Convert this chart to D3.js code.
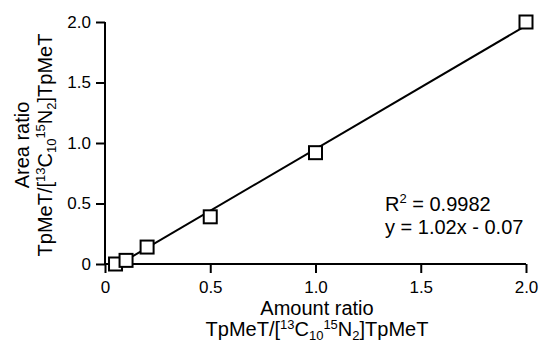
<!DOCTYPE html>
<html>
<head>
<meta charset="utf-8">
<script src="https://cdn.jsdelivr.net/npm/d3@7"></script>
<style>
body{margin:0;background:#fff;}
svg text{font-family:"Liberation Sans",Arial,sans-serif;fill:#000;}
</style>
</head>
<body>
<svg width="541" height="342"></svg>
<script>
// amount ratio vs area ratio
var amountRatio = [0.05, 0.1, 0.2, 0.5, 1.0, 2.0];
var areaRatio = [0.0, 0.03, 0.14, 0.39, 0.92, 2.0];
var xTicks = [0, 0.5, 1.0, 1.5, 2.0];
var yTicks = [0, 0.5, 1.0, 1.5, 2.0];
var fit = {slope:1.02, intercept:-0.07, r2:"0.9982", from:0.07, to:2.0};

var svg = d3.select("svg");
var x = d3.scaleLinear().domain([0,2]).range([105,526]);
var y = d3.scaleLinear().domain([0,2]).range([264,22]);
var fmt = function(d){ return d===0 ? "0" : d3.format(".1f")(d); };

var xAxis = svg.append("g")
	.attr("transform","translate(0,"+y(0)+")")
	.call(d3.axisBottom(x).tickValues(xTicks).tickFormat(fmt).tickSize(9).tickSizeOuter(0).tickPadding(8));
var yAxis = svg.append("g")
	.attr("transform","translate("+x(0)+",0)")
	.call(d3.axisLeft(y).tickValues(yTicks).tickFormat(fmt).tickSize(9).tickSizeOuter(0).tickPadding(5));
[xAxis,yAxis].forEach(function(a){
	a.selectAll("path,line").attr("stroke","#000").attr("stroke-width",2);
	a.selectAll("text").attr("font-size",17).attr("font-family","Liberation Sans, Arial, sans-serif");
});
xAxis.select("path").attr("d","M"+(x(0)-1)+",0H"+x(2));
yAxis.select("path").attr("d","M0,"+(y(0)+1)+"V"+y(2));

// regression line
svg.append("line")
	.attr("x1",x(fit.from)).attr("y1",y(fit.slope*fit.from+fit.intercept))
	.attr("x2",x(fit.to)).attr("y2",y(fit.slope*fit.to+fit.intercept))
	.attr("stroke","#000").attr("stroke-width",2);

// squares
var s = 13;
svg.selectAll("rect.pt")
	.data(amountRatio)
	.enter()
	.append("rect")
	.attr("class","pt")
	.attr("x",function(d){ return x(d)-s/2; })
	.attr("y",function(d,i){ return y(areaRatio[i])-s/2; })
	.attr("width",s).attr("height",s)
	.attr("fill","#fff").attr("stroke","#000").attr("stroke-width",2);

// annotation
var ann = svg.append("text").attr("x",385).attr("y",211).attr("font-size",20);
ann.append("tspan").text("R");
ann.append("tspan").attr("font-size",13).attr("dy",-8).text("2");
ann.append("tspan").attr("dy",8).text(" = "+fit.r2);
svg.append("text").attr("x",385).attr("y",234).attr("font-size",20)
	.text("y = "+fit.slope.toFixed(2)+"x - "+Math.abs(fit.intercept).toFixed(2));

// axis titles
function isoLabel(g){
	g.append("tspan").text("TpMeT/[");
	g.append("tspan").attr("font-size",13).attr("dy",-7).text("13");
	g.append("tspan").attr("dy",7).text("C");
	g.append("tspan").attr("dy",4).attr("font-size",13).text("10");
	g.append("tspan").attr("dy",-11).attr("font-size",13).text("15");
	g.append("tspan").attr("dy",7).text("N");
	g.append("tspan").attr("dy",4).attr("font-size",13).text("2");
	g.append("tspan").attr("dy",-4).text("]TpMeT");
}
svg.append("text").attr("x",317).attr("y",315).attr("text-anchor","middle").attr("font-size",20).text("Amount ratio");
isoLabel(svg.append("text").attr("x",317).attr("y",336).attr("text-anchor","middle").attr("font-size",20));

var yl = svg.append("g").attr("transform","translate(0,145) rotate(-90)");
yl.append("text").attr("x",0).attr("y",29).attr("text-anchor","middle").attr("font-size",20).text("Area ratio");
isoLabel(yl.append("text").attr("x",0).attr("y",52).attr("text-anchor","middle").attr("font-size",20));
</script>
</body>
</html>
